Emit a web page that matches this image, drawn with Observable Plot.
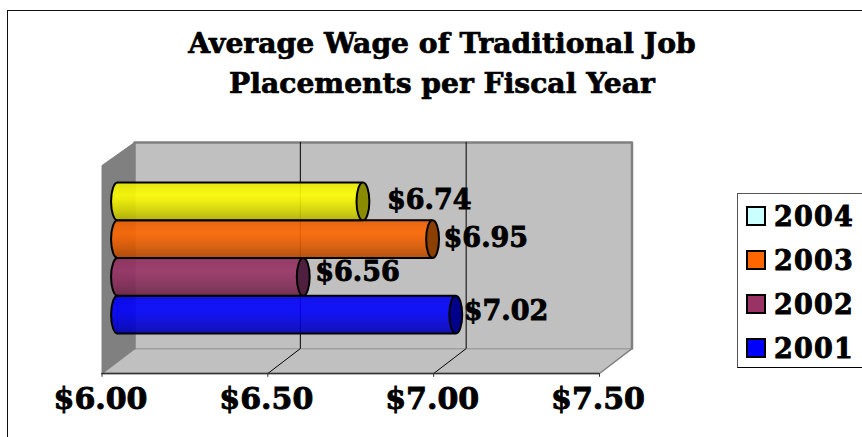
<!DOCTYPE html>
<html><head><meta charset="utf-8">
<script src="https://cdn.jsdelivr.net/npm/d3@7"></script>
<script src="https://cdn.jsdelivr.net/npm/@observablehq/plot@0.6"></script>
<style>
html,body{margin:0;padding:0;background:#fff;overflow:hidden;width:862px;height:437px}
#page{position:relative;width:862px;height:437px;overflow:hidden;font-family:"DejaVu Serif",serif;font-weight:bold;color:#000}
#frame{position:absolute;left:6.5px;top:10px;width:900px;height:500px;border:1.5px solid #111;box-sizing:border-box}
#title{position:absolute;left:0;top:24px;width:884px;text-align:center;font-size:28.2px;line-height:40px;margin:0;font-weight:bold;-webkit-text-stroke:.7px #000}
#chart{position:absolute;left:0;top:105px}
#chart text{stroke:#000;stroke-width:.9px}
#legend{position:absolute;left:737px;top:193px;width:160px;height:175px;box-sizing:border-box;border:1.5px solid #555;border-bottom-color:#000;background:#fff}
.row{position:absolute;left:8px;height:22px;display:flex;align-items:center;font-size:27px;letter-spacing:1.2px;white-space:nowrap;-webkit-text-stroke:.9px #000}
.sw{width:20px;height:20px;box-sizing:border-box;border:2.5px solid #000;margin-right:8px;flex:none;-webkit-text-stroke:0}
svg{display:block}
</style></head><body>
<div id="page">
  <div id="frame"></div>
  <h1 id="title">Average Wage of Traditional Job<br>Placements per Fiscal Year</h1>
  <div id="chart"></div>
  <div id="legend"></div>
</div>
<script>
const years = ["2001","2002","2003","2004"];
const wages = [7.02,6.56,6.95,6.74];
const wageLabels = ["$7.02","$6.56","$6.95","$6.74"];
const barColors = ["#0000ff","#993366","#ff6600","#ffff00"];
const capColors = ["#00008b","#4f1f40","#8b3f00","#8b8b00"];
const legendColors = ["#0000ff","#993366","#ff6600","#ccffff"];
const xTicks = [6,6.5,7,7.5];

// chart box in data units: x = dollars, y = bar slots
const xMin = 6, xMax = 7.5, depth = 0.098;
const floorFront = -1.06, floorBack = -0.4, wallTop = 5.06, sideTop = 4.45, tickEnd = -1.16;

const FONT = '"DejaVu Serif", serif';
const barShift = 15.5;
const labelNudge = [[8,-3],[12,-5],[11,-1],[24,-1]];

function shade(hex, k){
  const c = d3.rgb(hex);
  return d3.rgb(c.r*k, c.g*k, c.b*k).formatHex();
}
const gradients = () => {
  const defs = d3.create("svg:defs");
  barColors.forEach((col,i) => {
    const g = defs.append("linearGradient").attr("id","bar"+i)
      .attr("x1",0).attr("x2",0).attr("y1",0).attr("y2",1);
    [[0,.9],[.2,.97],[.35,1],[.5,.95],[.75,.84],[1,.7]].forEach(([o,k]) =>
      g.append("stop").attr("offset",o).attr("stop-color",shade(col,k)));
  });
  return defs.node();
};

const ellipse = {draw(ctx,size){
  const ry=Math.sqrt(size/Math.PI), rx=ry*0.34, k=0.5523;
  ctx.moveTo(0,-ry);
  ctx.bezierCurveTo(rx*k,-ry,rx,-ry*k,rx,0);
  ctx.bezierCurveTo(rx,ry*k,rx*k,ry,0,ry);
  ctx.bezierCurveTo(-rx*k,ry,-rx,ry*k,-rx,0);
  ctx.bezierCurveTo(-rx,-ry*k,-rx*k,-ry,0,-ry);
  ctx.closePath();
}};
const halfEllipse = closed => ({draw(ctx,size){
  const ry=Math.sqrt(size/Math.PI), rx=ry*0.34, k=0.5523;
  ctx.moveTo(0,ry);
  ctx.bezierCurveTo(-rx*k,ry,-rx,ry*k,-rx,0);
  ctx.bezierCurveTo(-rx,-ry*k,-rx*k,-ry,0,-ry);
  if(closed) ctx.closePath();
}});

const poly = pts => pts.map(([x,y]) => ({x,y}));
const sideWall = poly([[xMin,floorFront],[xMin,sideTop],[xMin+depth,wallTop],[xMin+depth,floorBack],[xMin,floorFront]]);
const floor = poly([[xMin,floorFront],[xMax,floorFront],[xMax+depth,floorBack],[xMin+depth,floorBack],[xMin,floorFront]]);
const backWall = poly([[xMin+depth,floorBack],[xMin+depth,wallTop],[xMax+depth,wallTop],[xMax+depth,floorBack]]);
const gridTicks = [6.5,7];

const marks = [
  gradients,
  Plot.line(sideWall,{x:"x",y:"y",fill:"#808080",stroke:"#808080",strokeWidth:1}),
  Plot.line(floor,{x:"x",y:"y",fill:"#c0c0c0",stroke:"#808080",strokeWidth:1.5}),
  Plot.line(backWall,{x:"x",y:"y",fill:"#c0c0c0",stroke:"#808080",strokeWidth:2.5}),
  Plot.ruleX(gridTicks,{x:d=>d+depth,y1:floorBack,y2:wallTop,stroke:"#000",strokeWidth:1}),
  ...gridTicks.map(t => Plot.line(poly([[t,floorFront],[t+depth,floorBack]]),{x:"x",y:"y",stroke:"#000",strokeWidth:1})),
  Plot.ruleY([floorFront],{x1:xMin,x2:xMax,stroke:"#333",strokeWidth:1.5}),
  Plot.ruleX(xTicks,{y1:floorFront,y2:tickEnd,stroke:"#333",strokeWidth:1}),
  Plot.axisX({ticks:xTicks,tickFormat:d3.format("$.2f"),anchor:"bottom",tickSize:0,tickPadding:14,
    fontSize:30,fontWeight:"bold",fontFamily:FONT,dx:-1.5})
];

wages.forEach((v,i) => {
  const row = [{v,y:i+0.5}];
  const opts = {dx:barShift};
  marks.push(
    Plot.dot(row,{x:()=>xMin,y:"y",r:18.9,symbol:halfEllipse(true),fill:`url(#bar${i})`,stroke:"none",fillOpacity:.9,...opts}),
    Plot.rect(row,{x1:()=>xMin,x2:"v",y1:()=>i,y2:()=>i+1,fill:`url(#bar${i})`,fillOpacity:.9,inset:0,...opts}),
    Plot.dot(row,{x:()=>xMin,y:"y",r:18.9,symbol:halfEllipse(false),fill:"none",stroke:"#000",strokeWidth:2,...opts}),
    Plot.ruleY([i,i+1],{x1:xMin,x2:v,stroke:"#000",strokeWidth:2,...opts}),
    Plot.dot(row,{x:"v",y:"y",r:18.9,symbol:ellipse,fill:capColors[i],stroke:"#000",strokeWidth:2,...opts})
  );
});
wages.forEach((v,i) => {
  marks.push(Plot.text([{v,y:i+0.5,t:wageLabels[i]}],{x:"v",y:"y",text:"t",textAnchor:"start",
    dx:barShift+labelNudge[i][0],dy:labelNudge[i][1],fontSize:27,fontWeight:"bold",fontFamily:FONT,fill:"#000"}));
});

const chart = Plot.plot({
  width:862,height:332,
  marginLeft:0,marginRight:0,marginTop:0,marginBottom:64,
  x:{domain:[xMin,xMax],range:[101.5,599],axis:null},
  y:{domain:[0,4],range:[228,77],axis:null},
  style:{background:"transparent",overflow:"visible"},
  marks
});
document.getElementById("chart").appendChild(chart);

const legend = d3.select("#legend");
const legendRows = years.map((y,i)=>({y,c:legendColors[i]})).reverse();
legendRows.forEach((d,i)=>{
  const row = legend.append("div").attr("class","row").style("top",(11+44*i)+"px");
  row.append("span").attr("class","sw").style("background",d.c);
  row.append("span").text(d.y);
});
</script>
</body></html>
